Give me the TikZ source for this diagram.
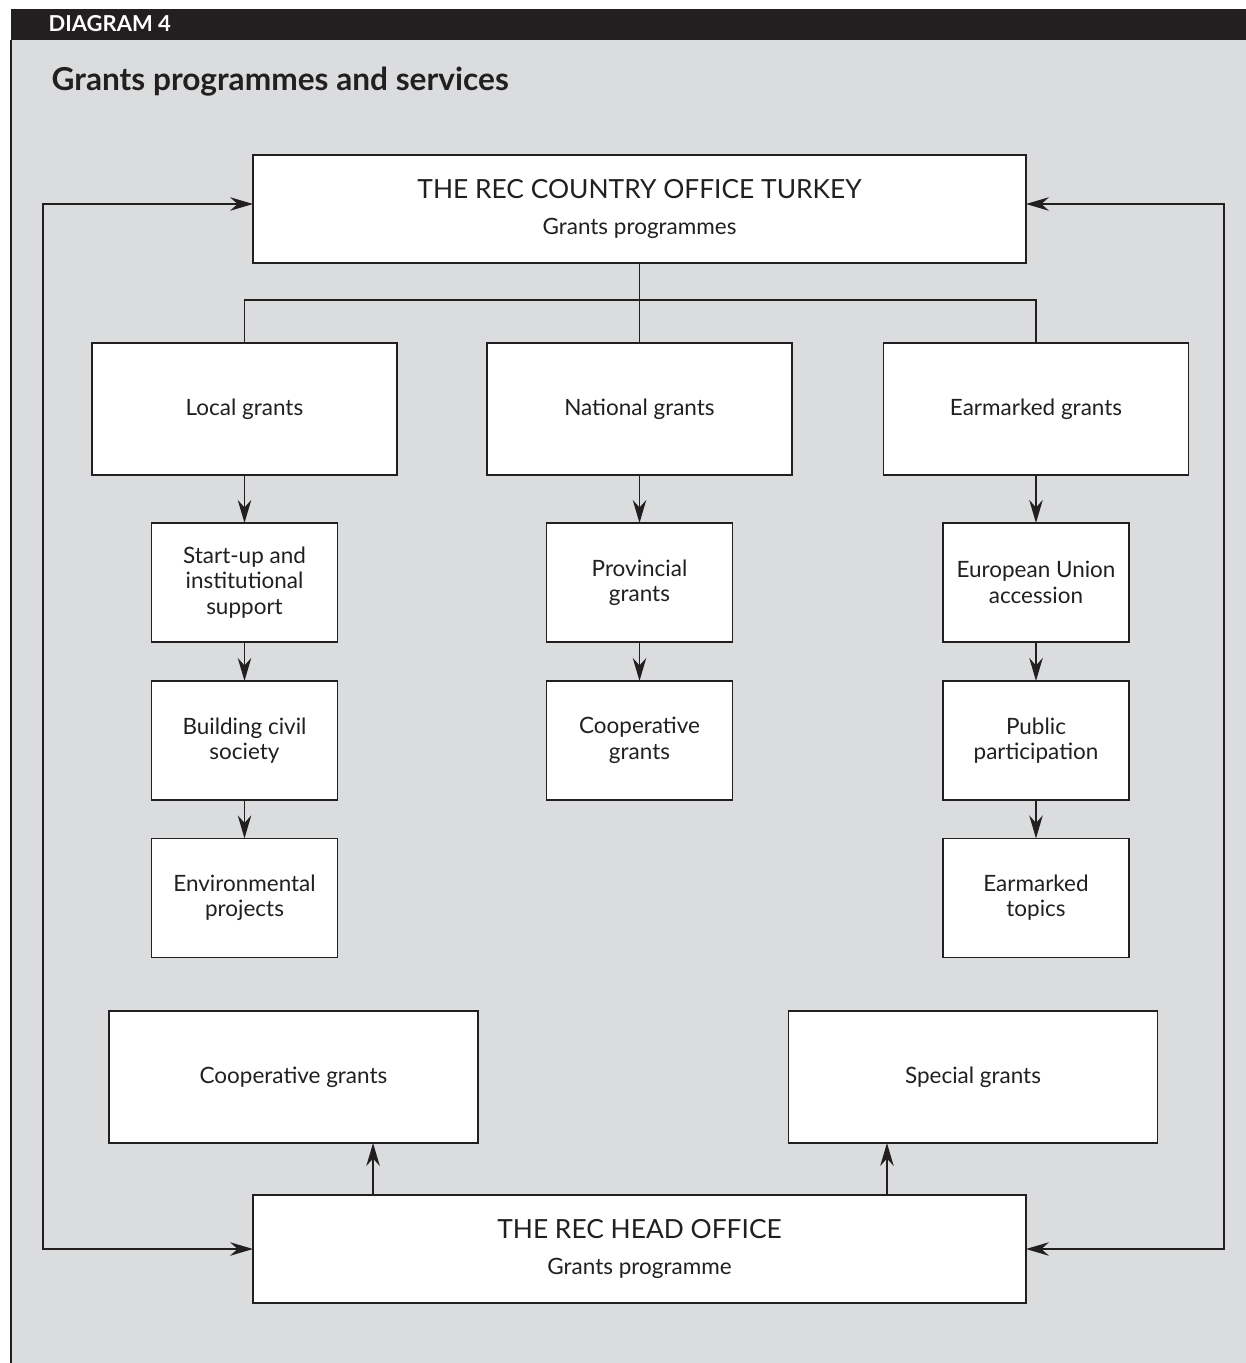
\documentclass[tikz,border=0pt]{standalone}
\usepackage{fontspec}
\setmainfont{Lato}
\usetikzlibrary{arrows.meta,positioning}

\definecolor{panelgray}{RGB}{219,220,222}
\definecolor{inkblack}{RGB}{35,31,32}

\begin{document}
\begin{tikzpicture}[x=0.02cm,y=-0.02cm,>={Stealth[length=4.6mm,width=2.7mm]},
                    line width=0.8pt,color=inkblack,node distance=0.96cm,
  box/.style={draw,fill=white,align=center,inner sep=0pt,outer sep=0pt,
              font=\fontsize{12.8}{14.4}\selectfont},
  branch/.style={box,minimum width=6.1cm,minimum height=2.64cm},
  leaf/.style={box,minimum width=3.72cm,minimum height=2.38cm},
  extra/.style={box,minimum width=7.38cm,minimum height=2.64cm},
  office/.style={box,minimum width=15.46cm,minimum height=2.16cm}]

  % page, panel and header
  \useasboundingbox (0,0) rectangle (1246,1363);
  \fill[white] (0,0) rectangle (1246,1363);
  \fill[panelgray] (11,40) rectangle (1246,1363);
  \fill[inkblack] (11,9) rectangle (1246,40);
  \draw (11,40) -- (11,1363);
  \node[anchor=west,inner sep=0pt,text=white,font=\bfseries\fontsize{12.5}{14}\selectfont]
       (tag) at (48,24) {DIAGRAM 4};
  \node[anchor=west,inner sep=0pt,font=\bfseries\fontsize{18}{21}\selectfont]
       (title) at (51,82) {Grants programmes and services};

  % offices
  \node[office] (country) at (639.5,209)
       {{\fontsize{15}{17}\selectfont THE REC COUNTRY OFFICE TURKEY}\\[6.5pt]Grants programmes};
  \node[office] (head) at (639.5,1249)
       {{\fontsize{15}{17}\selectfont THE REC HEAD OFFICE}\\[6.5pt]Grants programme};

  % grant lines
  \node[branch] (local)     at (244.5,409)  {Local grants};
  \node[branch] (national)  at (639.5,409)  {National grants};
  \node[branch] (earmarked) at (1036,409)   {Earmarked grants};

  \node[leaf] (startup)    [below=of local]              {Start-up and\\institutional\\support};
  \node[leaf] (civil)      [below=0.78cm of startup]     {Building civil\\society};
  \node[leaf] (environ)    [below=0.77cm of civil]       {Environmental\\projects};
  \node[leaf] (provincial) [below=of national]           {Provincial\\grants};
  \node[leaf] (coopnat)    [below=0.78cm of provincial]  {Cooperative\\grants};
  \node[leaf] (accession)  [below=of earmarked]          {European Union\\accession};
  \node[leaf] (public)     [below=0.78cm of accession]   {Public\\participation};
  \node[leaf] (topics)     [below=0.77cm of public]      {Earmarked\\topics};

  \node[extra] (coophead) at (293.5,1077) {Cooperative grants};
  \node[extra] (special)  at (973,1077)   {Special grants};

  % connectors
  \coordinate (split) at (639.5,300);
  \draw (country) -- (national);
  \draw (local.north) |- (split) -| (earmarked.north);

  \path[->] (local)      edge (startup)
            (startup)    edge (civil)
            (civil)      edge (environ)
            (national)   edge (provincial)
            (provincial) edge (coopnat)
            (earmarked)  edge (accession)
            (accession)  edge (public)
            (public)     edge (topics);

  \coordinate (westrun) at (43,1249);
  \coordinate (eastrun) at (1224,1249);
  \draw[<->] ([yshift=0.1cm]country.west) -| (westrun) -- (head.west);
  \draw[<->] ([yshift=0.1cm]country.east) -| (eastrun) -- (head.east);

  \coordinate (leftfoot)  at ([xshift=2.4cm]head.north west);
  \coordinate (rightfoot) at ([xshift=-2.78cm]head.north east);
  \draw[->] (leftfoot)  -- (leftfoot |- coophead.south);
  \draw[->] (rightfoot) -- (rightfoot |- special.south);
\end{tikzpicture}
\end{document}
